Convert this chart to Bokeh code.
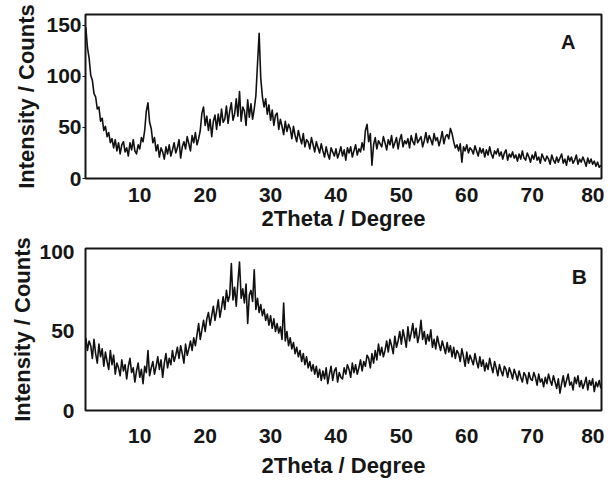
from bokeh.plotting import figure
from bokeh.layouts import column
from bokeh.models import Range1d, FixedTicker, Label
from bokeh.embed import file_html
from bokeh.resources import INLINE

# ---- data ----
THETA_START = 1.75
THETA_STEP = 0.25
X_TICKS = [10, 20, 30, 40, 50, 60, 70, 80]
A_Y_TICKS = [0, 50, 100, 150]
B_Y_TICKS = [0, 50, 100]
X_LABEL = "2Theta / Degree"
Y_LABEL = "Intensity / Counts"

INTENSITY_A = [
    148,
    128, 118, 101, 96,
    83, 80, 68, 70,
    56, 59, 47, 51,
    41, 45, 35, 39,
    30, 38, 27, 35,
    24, 33, 36, 26,
    30, 22, 35, 28,
    38, 27, 24, 33,
    29, 40, 36, 47,
    66, 74, 55, 49,
    35, 40, 27, 33,
    21, 30, 26, 19,
    31, 24, 33, 22,
    28, 35, 25, 30,
    38, 20, 31, 36,
    29, 41, 34, 27,
    42, 35, 45, 33,
    39, 47, 64, 70,
    52, 61, 47, 58,
    41, 56, 62, 48,
    63, 52, 68, 55,
    58, 71, 54, 66,
    74, 57, 63, 78,
    61, 85, 56, 70,
    66, 52, 77, 60,
    73, 58, 68, 81,
    112, 142, 98, 80,
    70, 78, 63, 72,
    57, 67, 52, 62,
    64, 48, 58, 51,
    43, 56, 46, 53,
    49, 39, 51, 42,
    36, 47, 40, 34,
    44, 31, 38, 36,
    29, 40, 33, 26,
    36, 30, 25, 34,
    27, 21, 31, 24,
    19, 30, 26, 22,
    29, 20, 25, 31,
    22, 28, 18, 30,
    25, 31, 21, 27,
    33, 23, 29, 26,
    35, 28, 47, 53,
    36, 44, 13, 33,
    40, 29, 37, 34,
    31, 41, 35, 28,
    38, 33, 42, 30,
    35, 40, 29, 38,
    43, 31, 37, 34,
    39, 30, 42, 36,
    33, 44, 35, 38,
    41, 31, 37, 45,
    35, 42, 38, 33,
    44, 37, 40, 32,
    38, 46, 34, 41,
    43, 39, 49, 44,
    36, 30, 33, 27,
    34, 16, 31, 27,
    33, 25, 30, 28,
    24, 32, 27, 22,
    30, 25, 29, 21,
    28, 23, 31, 24,
    20, 27, 24, 29,
    22, 26, 19, 25,
    28, 18, 24, 21,
    26, 20, 23, 17,
    24, 19, 27, 20,
    18, 25, 21, 16,
    23, 19, 26, 18,
    21, 15, 24, 20,
    17, 22, 19, 14,
    23, 18, 15, 21,
    16, 20, 24, 15,
    19, 13, 22, 17,
    21, 15, 18, 23,
    14, 19, 16, 21,
    17, 12, 20, 15,
    19, 14, 17, 12,
    16, 11, 13,
]

INTENSITY_B = [
    46,
    38, 44, 41, 33,
    45, 36, 30, 42,
    34, 39, 28, 37,
    31, 26, 38, 29,
    35, 23, 30, 27,
    22, 32, 25, 29,
    20, 28, 33, 24,
    27, 18, 25, 30,
    21, 26, 17, 28,
    24, 38, 22, 27,
    31, 23, 28, 34,
    26, 32, 21, 30,
    36, 27, 33, 29,
    38, 31, 35, 40,
    33, 41, 36, 30,
    42, 35, 39, 44,
    38, 46, 41, 48,
    55, 45, 51, 57,
    50, 58, 62, 54,
    60, 66, 57, 63,
    70, 59, 65, 72,
    64, 76, 69, 73,
    93, 70, 78, 66,
    81, 94, 71, 77,
    68, 80, 55, 73,
    76, 69, 89, 64,
    71, 62, 67, 60,
    64, 57, 61, 54,
    60, 52, 58, 50,
    55, 49, 53, 45,
    68, 44, 50, 41,
    46, 39, 43, 36,
    40, 34, 38, 31,
    36, 29, 34, 27,
    31, 25, 29, 23,
    28, 21, 26, 19,
    25, 20, 27, 17,
    23, 28, 19, 25,
    27, 18, 24, 21,
    20, 27, 23, 29,
    26, 21, 30, 24,
    29, 23, 27, 32,
    25, 31, 28, 35,
    33, 27, 36, 30,
    38, 32, 42, 35,
    40, 34, 38, 44,
    37, 45, 41, 36,
    47, 40, 44, 50,
    42, 51, 46, 40,
    53, 44, 49, 55,
    46, 52, 43, 48,
    57, 45, 50, 42,
    48, 44, 51, 40,
    45, 39, 47, 42,
    38, 44, 40, 36,
    43, 37, 41, 34,
    40, 33, 38, 36,
    31, 39, 34, 28,
    37, 30, 35, 32,
    29, 36, 31, 27,
    34, 28, 32, 25,
    30, 26, 33, 28,
    24, 31, 27, 22,
    29, 25, 22, 28,
    26, 21, 27, 24,
    20, 26, 23, 19,
    25, 21, 18, 24,
    22, 17, 24, 20,
    19, 24, 21, 16,
    23, 18, 20, 15,
    21, 17, 23, 19,
    16, 22, 18, 14,
    20, 11, 17, 22,
    15, 19, 23, 16,
    18, 13, 21, 17,
    22, 15, 19, 14,
    17, 21, 13, 19,
    16, 20, 12, 18,
    15, 19, 14,
]

FONT = "Liberation Sans"
INK = "#161616"


def theta_for(vals):
    return [THETA_START + THETA_STEP * i for i in range(len(vals))]


def panel(vals, y_end, yticks, height, top, bottom, letter, lx, ly, letter_size,
          ytick_out, ytick_standoff, ylabel_standoff, xtick_standoff, xlabel_standoff):
    p = figure(width=604, height=height,
               x_range=Range1d(1.7, 80.6), y_range=Range1d(0, y_end),
               output_backend="svg", toolbar_location=None,
               min_border_left=85, min_border_right=3,
               min_border_top=top, min_border_bottom=bottom)
    p.line(theta_for(vals), vals, line_color="#111111", line_width=1.6,
           line_join="round")
    p.grid.visible = False
    p.outline_line_color = INK
    p.outline_line_width = 2
    p.background_fill_color = "white"
    p.border_fill_color = "white"
    for ax in (p.xaxis[0], p.yaxis[0]):
        ax.axis_line_color = None
        ax.minor_tick_line_color = None
        ax.major_tick_in = 0
        ax.major_tick_line_color = INK
        ax.major_tick_line_width = 1
        ax.major_label_text_font = FONT
        ax.major_label_text_font_style = "bold"
        ax.major_label_text_font_size = "21px"
        ax.major_label_text_color = INK
        ax.axis_label_text_font = FONT
        ax.axis_label_text_font_style = "bold"
        ax.axis_label_text_font_size = "22px"
        ax.axis_label_text_color = INK
    p.xaxis.ticker = FixedTicker(ticks=X_TICKS)
    p.xaxis.major_tick_out = 0
    p.xaxis.major_label_standoff = xtick_standoff
    p.xaxis.axis_label = X_LABEL
    p.xaxis.axis_label_standoff = xlabel_standoff
    p.yaxis.ticker = FixedTicker(ticks=yticks)
    p.yaxis.major_tick_out = ytick_out
    p.yaxis.major_label_standoff = ytick_standoff
    p.yaxis.axis_label = Y_LABEL
    p.yaxis.axis_label_standoff = ylabel_standoff
    p.add_layout(Label(x=lx, y=ly, text=letter, text_font=FONT,
                       text_font_style="bold", text_font_size=letter_size,
                       text_color=INK, text_align="center", text_baseline="middle"))
    return p


pA = panel(INTENSITY_A, 160.5, A_Y_TICKS, 236, 14, 58, "A", 75.5, 134, "20px",
           3, 1, 4, 9, 1)
pB = panel(INTENSITY_B, 102.5, B_Y_TICKS, 244, 12, 67, "B", 77.2, 84.8, "21px",
           0, 11, 1, 18, 7)

layout = column(pA, pB)
open("out.html", "w").write(file_html(layout, INLINE))
